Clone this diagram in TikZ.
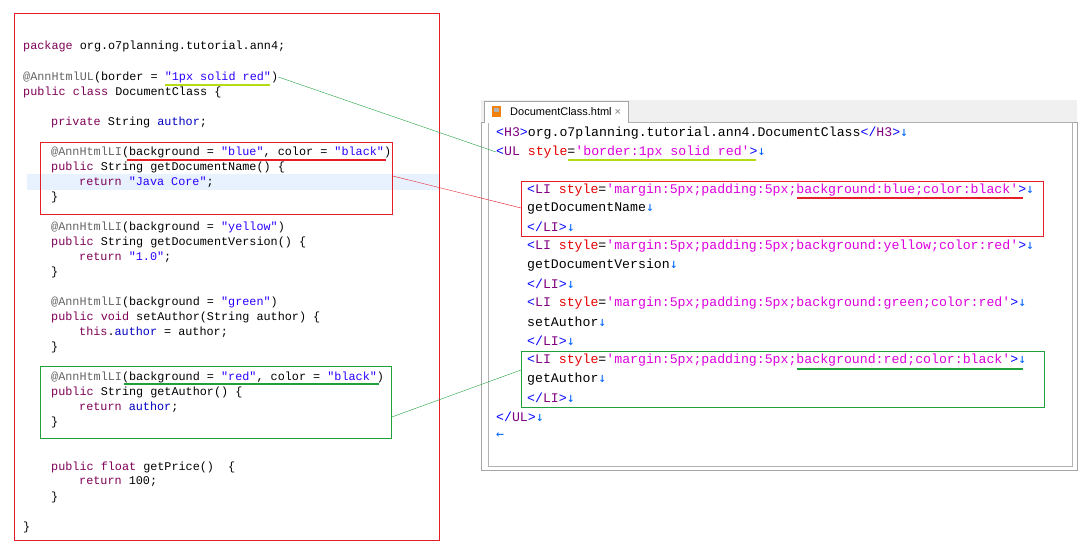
\documentclass[tikz,border=0pt]{standalone}
\usepackage{fontspec}
\setmonofont{Liberation Mono}
\setsansfont{Liberation Sans}
\newfontfamily\arr{DejaVu Sans Mono}
\definecolor{kwc}{RGB}{127,0,85}
\definecolor{annc}{RGB}{100,100,100}
\definecolor{strc}{RGB}{42,0,255}
\definecolor{fldc}{RGB}{0,0,192}
\definecolor{tagc}{RGB}{0,0,255}
\definecolor{tagn}{RGB}{128,0,128}
\definecolor{attc}{RGB}{230,0,0}
\definecolor{valc}{RGB}{220,0,220}
\definecolor{arrc}{RGB}{0,100,255}
\definecolor{boxred}{RGB}{230,30,40}
\definecolor{boxgreen}{RGB}{30,160,60}
\definecolor{ulyel}{RGB}{180,220,20}
\definecolor{hl}{RGB}{232,242,254}
\newcommand\kw[1]{\textcolor{kwc}{#1}}
\newcommand\an[1]{\textcolor{annc}{#1}}
\newcommand\st[1]{\textcolor{strc}{#1}}
\newcommand\fd[1]{\textcolor{fldc}{#1}}
\newcommand\tg[1]{\textcolor{tagc}{#1}}
\newcommand\at[1]{\textcolor{attc}{#1}}
\newcommand\vl[1]{\textcolor{valc}{#1}}
\newcommand\da{\textcolor{arrc}{\arr ↓}}
\tikzset{
 code/.style={anchor=west,inner sep=0pt,font=\ttfamily\fontsize{11.8}{12}\selectfont},
 html/.style={anchor=west,inner sep=0pt,font=\ttfamily\fontsize{13.2}{13}\selectfont},
 hbox/.style={draw=boxred,line width=0.8pt},
 gbox/.style={draw=boxgreen,line width=0.8pt},
}
\begin{document}
\begin{tikzpicture}[x=1pt,y=-1pt]
\useasboundingbox (0,0) rectangle (1080,551);
% left panel
\fill[hl] (27,174) rectangle (440,190);
\node[draw=boxred,line width=0.8pt,minimum width=425,minimum height=527,anchor=north west,inner sep=0] (left) at (14,13) {};
\node[hbox,minimum width=352,minimum height=72,anchor=north west,inner sep=0] (b1) at (40,142) {};
\node[gbox,minimum width=351,minimum height=72,anchor=north west,inner sep=0] (b2) at (40,366) {};
\node[code] (c1) at (23,46) {\kw{package} org.o7planning.tutorial.ann4;};
\node[code] (c2) at (23,77) {\an{@AnnHtmlUL}(border = \st{"1px solid red"})};
\node[code] (c3) at (23,92) {\kw{public} \kw{class} DocumentClass \{};
\node[code] (c4) at (51,122) {\kw{private} String \fd{author};};
\node[code] (c5) at (51,152) {\an{@AnnHtmlLI}(background = \st{"blue"}, color = \st{"black"})};
\node[code] (c6) at (51,167) {\kw{public} String getDocumentName() \{};
\node[code] (c7) at (79,182) {\kw{return} \st{"Java Core"};};
\node[code] (c8) at (51,197) {\}};
\node[code] (c9) at (51,227) {\an{@AnnHtmlLI}(background = \st{"yellow"})};
\node[code] (c10) at (51,242) {\kw{public} String getDocumentVersion() \{};
\node[code] (c11) at (79,257) {\kw{return} \st{"1.0"};};
\node[code] (c12) at (51,272) {\}};
\node[code] (c13) at (51,302) {\an{@AnnHtmlLI}(background = \st{"green"})};
\node[code] (c14) at (51,317) {\kw{public} \kw{void} setAuthor(String author) \{};
\node[code] (c15) at (79,332) {\kw{this}.\fd{author} = author;};
\node[code] (c16) at (51,347) {\}};
\node[code] (c17) at (51,377) {\an{@AnnHtmlLI}(background = \st{"red"}, color = \st{"black"})};
\node[code] (c18) at (51,392) {\kw{public} String getAuthor() \{};
\node[code] (c19) at (79,407) {\kw{return} \fd{author};};
\node[code] (c20) at (51,422) {\}};
\node[code] (c21) at (51,467) {\kw{public} \kw{float} getPrice()\ \ \{};
\node[code] (c22) at (79,482) {\kw{return} 100;};
\node[code] (c23) at (51,497) {\}};
\node[code] (c24) at (23,527) {\}};
\draw[ulyel,line width=2.5pt] (165,85) -- (270,85);
\draw[boxred,line width=2.5pt] (127,160) -- (386,160);
\draw[boxgreen,line width=2.5pt] (124,384) -- (379,384);
% right panel
\fill[gray!12] (481,100) rectangle (1077,122);
\draw[gray!70] (481,122) rectangle (1077,470);
\draw[gray!60] (488,122) rectangle (1072,466);
\fill[white] (484,101) rectangle (628,123);
\draw[gray!70] (484,123) -- (484,101) -- (628,101) -- (628,123);
\fill[orange!80!brown] (492,106) rectangle (501,117);
\fill[gray!60] (494,108) rectangle (499,112);
\node[anchor=west,inner sep=0,font=\sffamily\fontsize{11}{11}\selectfont] (tab) at (510,112) {DocumentClass.html \textcolor{gray}{×}};
\node[hbox,minimum width=522,minimum height=55,anchor=north west,inner sep=0] (r1) at (521,181) {};
\node[gbox,minimum width=523,minimum height=56,anchor=north west,inner sep=0] (r2) at (521,351) {};
\node[html] (h1) at (496,133) {\tg{<}\textcolor{tagn}{H3}\tg{>}org.o7planning.tutorial.ann4.DocumentClass\tg{</}\textcolor{tagn}{H3}\tg{>}\da};
\node[html] (h2) at (496,152) {\tg{<}\textcolor{tagn}{UL} \at{style}=\vl{'border:1px solid red'}\tg{>}\da};
\node[html] (h3) at (527,190) {\tg{<}\textcolor{tagn}{LI} \at{style}=\vl{'margin:5px;padding:5px;background:blue;color:black'}\tg{>}\da};
\node[html] (h4) at (527,208) {getDocumentName\da};
\node[html] (h5) at (527,227) {\tg{</}\textcolor{tagn}{LI}\tg{>}\da};
\node[html] (h6) at (527,246) {\tg{<}\textcolor{tagn}{LI} \at{style}=\vl{'margin:5px;padding:5px;background:yellow;color:red'}\tg{>}\da};
\node[html] (h7) at (527,265) {getDocumentVersion\da};
\node[html] (h8) at (527,284) {\tg{</}\textcolor{tagn}{LI}\tg{>}\da};
\node[html] (h9) at (527,303) {\tg{<}\textcolor{tagn}{LI} \at{style}=\vl{'margin:5px;padding:5px;background:green;color:red'}\tg{>}\da};
\node[html] (h10) at (527,322) {setAuthor\da};
\node[html] (h11) at (527,341) {\tg{</}\textcolor{tagn}{LI}\tg{>}\da};
\node[html] (h12) at (527,360) {\tg{<}\textcolor{tagn}{LI} \at{style}=\vl{'margin:5px;padding:5px;background:red;color:black'}\tg{>}\da};
\node[html] (h13) at (527,379) {getAuthor\da};
\node[html] (h14) at (527,398) {\tg{</}\textcolor{tagn}{LI}\tg{>}\da};
\node[html] (h15) at (496,417) {\tg{</}\textcolor{tagn}{UL}\tg{>}\da};
\node[html] (h16) at (496,436) {\textcolor{arrc}{\arr ←}};
\draw[ulyel,line width=2.5pt] (568,160) -- (756,160);
\draw[boxred,line width=2.5pt] (797,198) -- (1023,198);
\draw[boxgreen,line width=2.5pt] (797,369) -- (1023,369);
% connectors
\draw[boxgreen] (c2.east) -- (h2.west);
\draw[boxred] (b1.east |- 0,176) -- (r1.west |- 0,208);
\draw[boxgreen] (b2.east |- 0,417) -- (r2.west |- 0,370);
\end{tikzpicture}
\end{document}
